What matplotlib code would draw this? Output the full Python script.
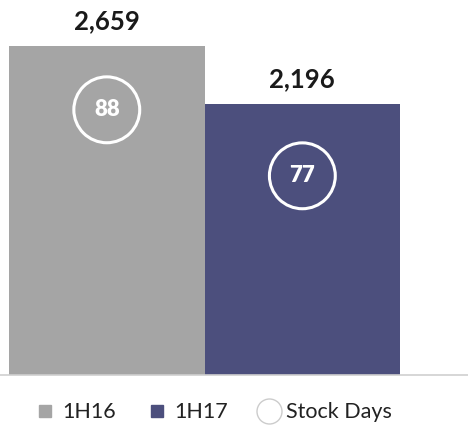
from matplotlib import pyplot as plt
from matplotlib.lines import Line2D

periods = ['1H16', '1H17']
inventory = [2659, 2196]
stock_days = [88, 77]
colors = ['#a5a5a5', '#4c4f7d']

plt.rcParams['font.family'] = ['Lato', 'DejaVu Sans']

fig = plt.figure(figsize=(4.68, 4.44), dpi=100)
ax = fig.add_axes([0, 69 / 444, 1, 375 / 444])

x = list(range(len(periods)))
ax.bar(x, inventory, width=1.0, color=colors)
for xi, v in zip(x, inventory):
    ax.text(xi, v + 105, '{:,}'.format(v), ha='center', va='bottom',
            fontsize=18.5, fontweight='bold', color='#1a1a1a')

ax.set_xlim(-0.546, 1.847)
ax.set_ylim(0, 3035)
ax.set_xticks([])
ax.set_yticks([])
for s in ['top', 'left', 'right']:
    ax.spines[s].set_visible(False)
ax.spines['bottom'].set_color('#cfcfcf')
ax.spines['bottom'].set_linewidth(1.2)

# stock days circles on a second scale
ax2 = ax.twinx()
ax2.set_ylim(43.8, 106.3)
ax2.axis('off')
ax2.scatter(x, stock_days, s=2250, facecolors='none', edgecolors='white',
            linewidths=2.2, zorder=3)
for xi, d in zip(x, stock_days):
    ax2.text(xi, d, str(d), ha='center', va='center', fontsize=16,
             fontweight='heavy', color='white', zorder=4)

handles = [
    Line2D([], [], marker='s', ls='none', color=colors[0], markersize=9),
    Line2D([], [], marker='s', ls='none', color=colors[1], markersize=9),
    Line2D([], [], marker='o', ls='none', markerfacecolor='white',
           markeredgecolor='#cccccc', markersize=18),
]
fig.legend(handles, periods + ['Stock Days'], loc='center',
           bbox_to_anchor=(0.455, 34 / 444 - 0.005), ncol=3, frameon=False,
           fontsize=15.5, handletextpad=0.3, columnspacing=1.4,
           handlelength=1.0, labelcolor='#222222')

fig.savefig('out.png')
